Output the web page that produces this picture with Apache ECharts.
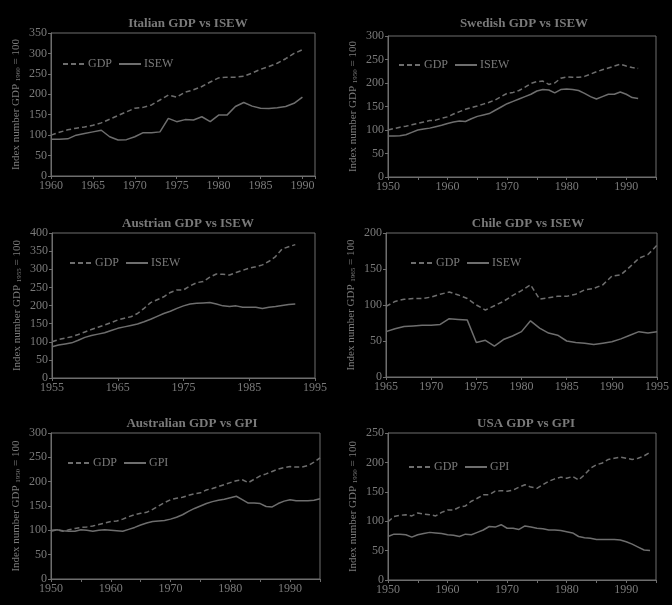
<!DOCTYPE html>
<html><head><meta charset="utf-8">
<script src="https://cdn.jsdelivr.net/npm/echarts@6/dist/echarts.min.js"></script>
<style>html,body{margin:0;padding:0;background:#000;}#c{width:672px;height:605px;}</style>
</head><body><div id="c"></div>
<script>
// Italy
const italyYears = [1960,1961,1962,1963,1964,1965,1966,1967,1968,1969,1970,1971,1972,1973,1974,1975,1976,1977,1978,1979,1980,1981,1982,1983,1984,1985,1986,1987,1988,1989,1990];
const italyGDP = [100,107,113,117,120,124,130,139,148,157,166,168,174,186,198,193,205,211,219,230,240,242,242,244,252,261,268,276,287,300,309];
const italyISEW = [90,90,91,100,104,108,112,96,88,89,96,106,106,108,141,133,138,137,145,133,149,149,170,180,171,166,165,167,170,178,193];
// Sweden
const swedenYears = [1950,1951,1952,1953,1954,1955,1956,1957,1958,1959,1960,1961,1962,1963,1964,1965,1966,1967,1968,1969,1970,1971,1972,1973,1974,1975,1976,1977,1978,1979,1980,1981,1982,1983,1984,1985,1986,1987,1988,1989,1990,1991,1992];
const swedenGDP = [100,103,106,108,111,114,117,120,121,125,128,134,139,144,148,151,155,159,164,171,178,180,184,191,199,203,204,197,200,210,213,212,212,214,219,224,228,232,236,240,236,233,231];
const swedenISEW = [87,87,88,90,95,100,102,104,107,110,114,117,119,118,124,129,132,135,142,149,156,161,166,171,176,183,186,185,179,186,187,186,184,178,171,166,171,176,176,181,176,169,167];
// Austria
const austriaYears = [1955,1956,1957,1958,1959,1960,1961,1962,1963,1964,1965,1966,1967,1968,1969,1970,1971,1972,1973,1974,1975,1976,1977,1978,1979,1980,1981,1982,1983,1984,1985,1986,1987,1988,1989,1990,1991,1992];
const austriaGDP = [100,106,110,114,120,127,134,140,146,153,160,165,169,178,192,208,216,224,236,243,243,254,263,266,278,287,286,284,291,297,303,307,312,322,335,356,362,368];
const austriaISEW = [86,91,94,97,104,112,117,121,125,131,137,141,145,149,155,162,170,178,184,192,199,204,206,207,208,204,199,197,199,195,195,195,192,195,197,200,203,204];
// Chile
const chileYears = [1965,1966,1967,1968,1969,1970,1971,1972,1973,1974,1975,1976,1977,1978,1979,1980,1981,1982,1983,1984,1985,1986,1987,1988,1989,1990,1991,1992,1993,1994,1995];
const chileGDP = [98,105,108,109,109,111,115,118,114,109,100,93,99,105,113,120,128,108,110,112,112,115,121,123,128,140,142,153,165,170,183];
const chileISEW = [63,67,70,71,72,72,73,81,80,79,48,51,43,52,57,63,78,68,61,58,50,48,47,45,47,49,53,58,63,61,63];
// Australia
const australiaYears = [1950,1951,1952,1953,1954,1955,1956,1957,1958,1959,1960,1961,1962,1963,1964,1965,1966,1967,1968,1969,1970,1971,1972,1973,1974,1975,1976,1977,1978,1979,1980,1981,1982,1983,1984,1985,1986,1987,1988,1989,1990,1991,1992,1993,1994,1995];
const australiaGDP = [100,101,98,101,104,106,107,109,112,115,118,119,123,128,132,135,137,143,150,157,163,166,168,172,175,177,183,186,190,194,198,202,204,198,205,212,216,221,226,229,231,230,230,233,240,249];
const australiaGPI = [98,101,99,98,98,101,100,98,100,101,100,99,98,102,106,111,115,118,119,120,123,127,132,139,145,150,155,159,162,164,167,170,163,156,156,155,149,148,155,160,163,161,161,161,162,165];
// USA
const usaYears = [1950,1951,1952,1953,1954,1955,1956,1957,1958,1959,1960,1961,1962,1963,1964,1965,1966,1967,1968,1969,1970,1971,1972,1973,1974,1975,1976,1977,1978,1979,1980,1981,1982,1983,1984,1985,1986,1987,1988,1989,1990,1991,1992,1993,1994];
const usaGDP = [99,108,110,111,109,114,112,111,109,115,119,119,124,126,134,139,145,145,151,152,151,153,158,162,158,156,162,168,172,175,173,176,170,179,190,196,199,205,207,209,207,205,207,211,217];
const usaGPI = [74,78,78,77,73,77,79,81,80,79,77,76,74,78,77,81,85,91,90,94,88,88,86,92,90,88,87,85,85,84,82,80,74,72,71,69,69,69,69,68,65,61,56,51,50];

const titles = ['Italian GDP vs ISEW','Swedish GDP vs ISEW','Austrian GDP vs ISEW','Chile GDP vs ISEW','Australian GDP vs GPI','USA GDP vs GPI'];
const baseYears = ['1960','1950','1955','1965','1950','1950'];
const indicatorNames = ['ISEW','ISEW','ISEW','ISEW','GPI','GPI'];

const panels = [
  {years: italyYears, gdp: italyGDP, ind: italyISEW, grid:{left:51,top:33,width:264,height:143}, x:{min:1960,max:1991.5,interval:5,every:5}, y:{max:350}, title:[183,12], legend:[57,53]},
  {years: swedenYears, gdp: swedenGDP, ind: swedenISEW, grid:{left:388,top:36,width:268,height:141}, x:{min:1950,max:1995,interval:5,every:10}, y:{max:300}, title:[519,12], legend:[393,54]},
  {years: austriaYears, gdp: austriaGDP, ind: austriaISEW, grid:{left:52,top:233,width:263,height:145}, x:{min:1955,max:1995,interval:10,every:10}, y:{max:400}, title:[183,212], legend:[64,252]},
  {years: chileYears, gdp: chileGDP, ind: chileISEW, grid:{left:386,top:233,width:275,height:144}, x:{min:1965,max:1995,interval:5,every:5}, y:{max:200}, title:[523,212], legend:[405,252]},
  {years: australiaYears, gdp: australiaGDP, ind: australiaGPI, grid:{left:51,top:433,width:269,height:146}, x:{min:1950,max:1995,interval:5,every:10}, y:{max:300}, title:[187,412], legend:[62,452]},
  {years: usaYears, gdp: usaGDP, ind: usaGPI, grid:{left:388,top:433,width:268,height:147}, x:{min:1950,max:1995,interval:5,every:10}, y:{max:250}, title:[521,412], legend:[403,456]}
];

const TXT = '#7a7a7a';
const LINE = '#6e6e6e';
const FONT = '"Liberation Serif","DejaVu Serif",serif';

const option = {
  backgroundColor: '#000',
  animation: false,
  title: [], legend: [], grid: [], xAxis: [], yAxis: [], series: []
};

panels.forEach((p, i) => {
  option.title.push({
    text: titles[i], left: p.title[0], top: p.title[1], textAlign: 'center',
    textStyle: {color: TXT, fontFamily: FONT, fontSize: 13, fontWeight: 'bold'}
  });
  option.grid.push(Object.assign({show: true, borderColor: LINE, borderWidth: 1, backgroundColor: 'transparent'}, p.grid));
  option.xAxis.push({
    type: 'value', gridIndex: i, min: p.x.min, max: p.x.max, interval: p.x.interval,
    axisLine: {lineStyle: {color: LINE}}, axisTick: {show: true, length: 3, lineStyle: {color: LINE}},
    splitLine: {show: false},
    axisLabel: {color: TXT, fontFamily: FONT, fontSize: 12, margin: 4, showMaxLabel: true,
      formatter: v => (Number.isInteger(v) && (v - p.x.min) % p.x.every === 0) ? String(v) : ''}
  });
  option.yAxis.push({
    type: 'value', gridIndex: i, min: 0, max: p.y.max, interval: 50,
    name: 'Index number GDP {s|' + baseYears[i] + '} = 100',
    nameLocation: 'middle', nameGap: 29, nameRotate: 90,
    nameTextStyle: {color: TXT, fontFamily: FONT, fontSize: 11,
      rich: {s: {fontSize: 7, color: TXT, fontFamily: FONT, verticalAlign: 'bottom', padding: [4,0,0,0]}}},
    axisLine: {show: true, lineStyle: {color: LINE}}, axisTick: {show: true, length: 3, lineStyle: {color: LINE}},
    splitLine: {show: false},
    axisLabel: {color: TXT, fontFamily: FONT, fontSize: 12, margin: 4}
  });
  option.legend.push({
    left: p.legend[0], top: p.legend[1], orient: 'horizontal', itemWidth: 22, itemHeight: 8, itemGap: 6,
    data: ['GDP', indicatorNames[i]], selectedMode: false,
    itemStyle: {opacity: 0},
    textStyle: {color: TXT, fontFamily: FONT, fontSize: 12, padding: [0,0,0,-2]}
  });
  option.series.push({
    name: 'GDP', type: 'line', xAxisIndex: i, yAxisIndex: i, symbol: 'none',
    data: p.years.map((y, k) => [y, p.gdp[k]]),
    lineStyle: {color: LINE, width: 1.5, type: [5, 3]}, itemStyle: {color: LINE}
  });
  option.series.push({
    name: indicatorNames[i], type: 'line', xAxisIndex: i, yAxisIndex: i, symbol: 'none',
    data: p.years.map((y, k) => [y, p.ind[k]]),
    lineStyle: {color: LINE, width: 1.5, type: 'solid'}, itemStyle: {color: LINE}
  });
});

const chart = echarts.init(document.getElementById('c'), null, {renderer: 'canvas'});
chart.setOption(option);
</script>
</body></html>
